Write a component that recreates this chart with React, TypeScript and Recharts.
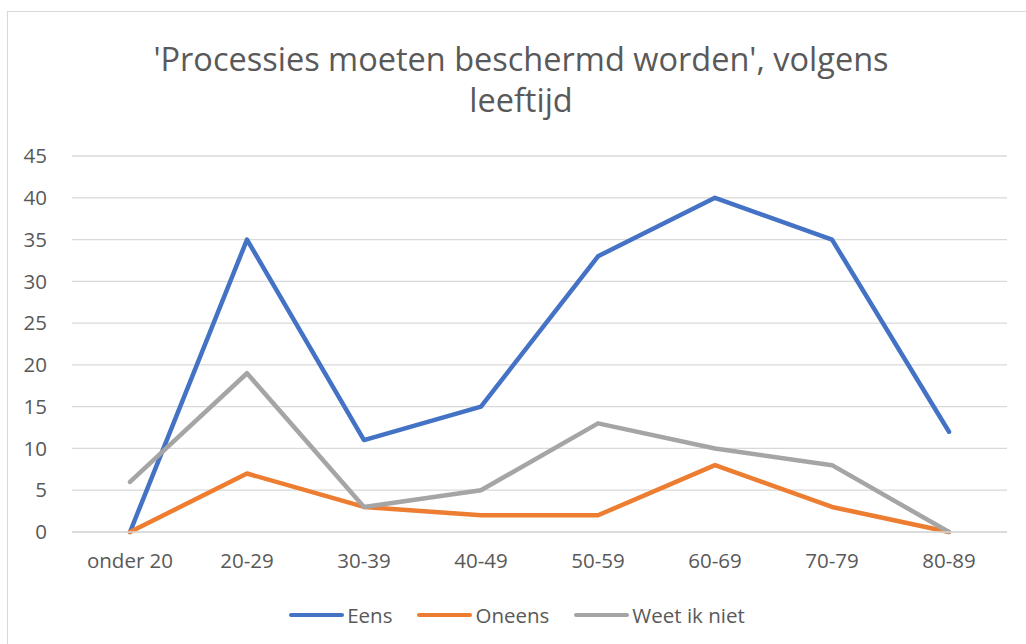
import { LineChart, Line, XAxis, YAxis, CartesianGrid, Legend } from 'recharts'

const categories = ['onder 20', '20-29', '30-39', '40-49', '50-59', '60-69', '70-79', '80-89']
const eens = [0, 35, 11, 15, 33, 40, 35, 12]
const oneens = [0, 7, 3, 2, 2, 8, 3, 0]
const weetIkNiet = [6, 19, 3, 5, 13, 10, 8, 0]
const yTicks = [0, 5, 10, 15, 20, 25, 30, 35, 40, 45]

const series = [
  { key: 'eens', name: 'Eens', color: '#4472C4' },
  { key: 'oneens', name: 'Oneens', color: '#ED7D31' },
  { key: 'weet', name: 'Weet ik niet', color: '#A5A5A5' },
]

const data = categories.map((label, i) => ({
  label,
  eens: eens[i],
  oneens: oneens[i],
  weet: weetIkNiet[i],
}))

const font = '"Open Sans", sans-serif'
const textColor = '#595959'

const renderLegend = () => (
  <div style={{ display: 'flex', justifyContent: 'center', gap: 25, fontFamily: font, fontSize: 20.5, color: textColor, paddingLeft: 8 }}>
    {series.map(s => (
      <div key={s.key} style={{ display: 'flex', alignItems: 'center' }}>
        <span style={{ display: 'inline-block', width: 55, height: 4.5, borderRadius: 2, background: s.color, marginRight: 3 }} />
        <span>{s.name}</span>
      </div>
    ))}
  </div>
)

export default function App() {
  return (
    <div style={{ position: 'absolute', left: 0, top: 0, width: 1026, height: 644, overflow: 'hidden', background: '#fff' }}>
      <div style={{ position: 'absolute', left: 7, top: 11, width: 1040, height: 660, border: '1px solid #d9d9d9' }} />
      <div style={{ position: 'absolute', left: 0, top: 38, width: 1042, textAlign: 'center', fontFamily: font, fontSize: 32.5, lineHeight: '41px', color: textColor }}>
        'Processies moeten beschermd worden', volgens
        <br />
        leeftijd
      </div>
      <div style={{ position: 'absolute', left: 0, top: 0 }}>
        <LineChart width={1026} height={644} data={data} margin={{ top: 156, right: 19, left: 0, bottom: 54 }}>
          <CartesianGrid vertical={false} stroke="#d9d9d9" strokeWidth={1.3} />
          <XAxis
            dataKey="label"
            padding={{ left: 58, right: 58 }}
            axisLine={{ stroke: '#d9d9d9', strokeWidth: 1.3 }}
            tickLine={false}
            tickSize={0}
            tickMargin={21}
            tick={{ fontSize: 20.5, fill: textColor, fontFamily: font }}
          />
          <YAxis
            width={72}
            domain={[0, 45]}
            ticks={yTicks}
            axisLine={false}
            tickLine={false}
            tickSize={0}
            tickMargin={25}
            tick={{ fontSize: 20.5, fill: textColor, fontFamily: font }}
          />
          {series.map(s => (
            <Line
              key={s.key}
              type="linear"
              dataKey={s.key}
              name={s.name}
              stroke={s.color}
              strokeWidth={4.5}
              strokeLinecap="round"
              strokeLinejoin="round"
              dot={false}
              activeDot={false}
              isAnimationActive={false}
            />
          ))}
          <Legend content={renderLegend} wrapperStyle={{ top: 601, left: 0, width: 1026 }} />
        </LineChart>
      </div>
    </div>
  )
}
